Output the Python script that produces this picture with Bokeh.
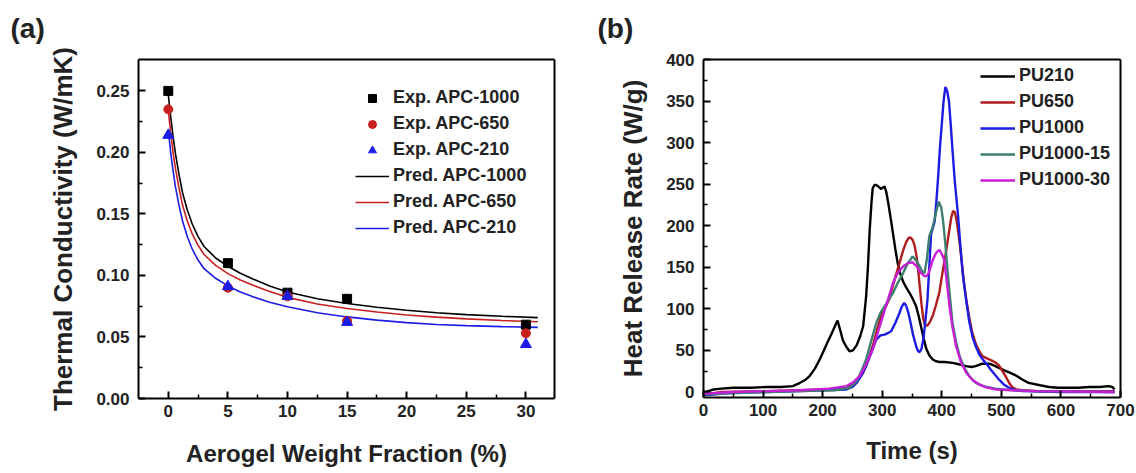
from bokeh.plotting import figure
from bokeh.layouts import row
from bokeh.models import Legend, LegendItem, FixedTicker, PrintfTickFormatter, Range1d, LinearAxis
from bokeh.embed import file_html
from bokeh.resources import INLINE

FONT = "Liberation Sans"

# ---------------- Panel (a) data ----------------
frac_exp = [0, 5, 10, 15, 30]
exp_apc1000 = [0.250, 0.110, 0.086, 0.081, 0.060]
exp_apc650 = [0.235, 0.090, 0.083, 0.063, 0.053]
exp_apc210 = [0.214, 0.091, 0.083, 0.062, 0.044]

frac_pred = [0, 0.2, 0.4, 0.6, 0.9, 1.2, 1.6, 2.0, 2.5, 3.0, 4.0, 5.0, 6.0, 7.0,
             8.5, 10, 12.5, 15, 17.5, 20, 22.5, 25, 28, 31]
pred_apc1000 = [0.247, 0.229, 0.213, 0.199, 0.182, 0.167, 0.153, 0.142, 0.1315, 0.1235,
                0.1140, 0.1075, 0.1020, 0.0975, 0.0915, 0.0865, 0.0810, 0.0772, 0.0742,
                0.0717, 0.0697, 0.0682, 0.0668, 0.0657]
pred_apc650 = [0.234, 0.216, 0.200, 0.187, 0.171, 0.157, 0.144, 0.134, 0.1245, 0.1170,
               0.1080, 0.1015, 0.0965, 0.0925, 0.0870, 0.0822, 0.0768, 0.0732, 0.0703,
               0.0679, 0.0661, 0.0647, 0.0634, 0.0624]
pred_apc210 = [0.218, 0.200, 0.185, 0.172, 0.157, 0.144, 0.1315, 0.1215, 0.1125, 0.1055,
               0.0975, 0.0915, 0.0868, 0.0830, 0.0782, 0.0745, 0.0697, 0.0663, 0.0637,
               0.0617, 0.0602, 0.0592, 0.0584, 0.0578]

xticks_a = [0, 5, 10, 15, 20, 25, 30]
yticks_a = [0.0, 0.05, 0.10, 0.15, 0.20, 0.25]

# ---------------- Panel (b) data ----------------
t_pu210 = [0, 8, 17, 30, 50, 80, 106, 130, 150, 162, 170, 178, 187, 195, 202, 209, 215, 220,
           225, 230, 234, 240, 245, 251, 257, 263, 268, 273, 276, 279, 282, 284, 287, 290,
           294, 298, 301, 304, 307, 310, 314, 318, 322, 326, 330, 335, 340, 346, 352, 357,
           361, 365, 369, 374, 379, 385, 390, 396, 405, 418, 430, 441, 450, 457, 468, 480,
           490, 496, 505, 515, 524, 535, 545, 552, 565, 580, 595, 611, 630, 647, 665, 680,
           686, 690]
hrr_pu210 = [-2, 1, 3, 4, 5, 5, 6, 6, 7, 11, 14, 19, 28, 39, 50, 61, 70, 78,
             86, 73, 62, 54, 49, 50, 56, 67, 79, 115, 150, 195, 228, 245, 249, 249,
             247, 244, 246, 247, 240, 228, 210, 191, 172, 155, 143, 133, 126, 119, 111, 103,
             92, 79, 66, 52, 44, 39, 37, 36, 36, 35, 33, 31, 30, 31, 34, 34,
             31, 29, 26, 23, 20, 15, 11, 10, 8, 6, 5, 5, 5, 6, 6, 7,
             6, 3]

t_pu650 = [0, 30, 106, 160, 218, 240, 251, 260, 268, 276, 284, 291, 298, 303, 307, 312, 318,
           324, 329, 335, 340, 344, 347, 351, 354, 357, 360, 363, 366, 369, 372, 376, 380,
           385, 390, 396, 401, 407, 412, 416, 419, 422, 425, 429, 433, 437, 441, 446, 451,
           457, 463, 468, 474, 480, 486, 491, 496, 501, 507, 513, 518, 525, 535, 560, 600,
           650, 690]
hrr_pu650 = [-4, 0, 1, 2, 3, 5, 9, 15, 23, 38, 55, 74, 91, 100, 104, 112, 128,
             143, 155, 170, 180, 185, 186, 183, 177, 166, 150, 127, 105, 88, 80, 80, 84,
             92, 104, 120, 143, 168, 192, 210, 218, 216, 206, 185, 160, 133, 112, 90, 72,
             58, 49, 43, 41, 39, 37, 35, 32, 26, 19, 11, 6, 3, 2, 1, 1,
             1, 1]

t_pu1000 = [0, 50, 106, 162, 200, 240, 250, 257, 265, 273, 281, 290, 297, 304, 310, 315, 322,
            329, 333, 337, 340, 344, 348, 352, 357, 360, 363, 366, 369, 372, 376, 379, 382,
            385, 388, 391, 394, 397, 400, 403, 406, 409, 412, 415, 418, 422, 427, 431, 435,
            440, 446, 452, 457, 463, 470, 476, 482, 490, 496, 504, 513, 525, 535, 600, 690]
hrr_pu1000 = [-4, -1, 0, 1, 2, 3, 6, 11, 20, 31, 46, 63, 68, 69, 71, 73, 83,
              95, 103, 107, 104, 95, 82, 68, 55, 49, 48, 52, 63, 82, 111, 150, 190,
              197, 205, 230, 260, 295, 322, 350, 367, 362, 350, 322, 291, 252, 215, 178, 143,
              115, 85, 65, 55, 45, 38, 33, 27, 20, 15, 9, 5, 2, 1, 0, 0]

t_pu1000_15 = [0, 106, 162, 220, 245, 257, 265, 273, 281, 290, 297, 304, 311, 318, 326, 335,
               343, 351, 357, 363, 368, 371, 375, 379, 385, 390, 395, 399, 402, 406, 410, 414,
               418, 424, 430, 438, 446, 457, 469, 490, 520, 560, 690]
hrr_pu1000_15 = [-3, 0, 1, 2, 5, 13, 25, 39, 60, 83, 95, 103, 111, 119, 131, 143,
                 155, 163, 158, 151, 144, 143, 160, 187, 199, 215, 229, 222, 207, 178, 143, 112,
                 83, 60, 43, 29, 19, 11, 7, 4, 2, 1, 0]

t_pu1000_30 = [0, 50, 106, 162, 210, 240, 252, 262, 273, 284, 292, 301, 310, 318, 326, 335,
               343, 351, 358, 365, 370, 374, 378, 385, 391, 396, 400, 404, 408, 413, 418, 424,
               432, 441, 452, 463, 477, 491, 520, 560, 690]
hrr_pu1000_30 = [-2, 0, 1, 2, 4, 7, 12, 19, 33, 51, 70, 91, 112, 131, 143, 151,
                 155, 156, 151, 143, 140, 139, 143, 159, 168, 171, 166, 159, 135, 103, 78, 55,
                 36, 23, 14, 9, 5, 3, 2, 1, 0]

xticks_b = [0, 100, 200, 300, 400, 500, 600, 700]
yticks_b = [0, 50, 100, 150, 200, 250, 300, 350, 400]


def frame_axis(p, side, spacer=False):
    ax = LinearAxis(ticker=FixedTicker(ticks=[]), axis_line_width=2, axis_line_color="black",
                    major_tick_in=0, major_tick_out=0, minor_tick_in=0, minor_tick_out=0,
                    major_label_text_font_size="0px", major_label_standoff=0)
    if spacer:
        ax.axis_label = " "
        ax.axis_label_text_font_size = "8px"
        ax.axis_label_standoff = 0
    p.add_layout(ax, side)


def style(p, xticks, xminor, yticks, yminor, xlabel, ylabel, yfmt,
          ylabel_standoff, xlabel_standoff, title, title_offset):
    p.xgrid.visible = False
    p.ygrid.visible = False
    p.outline_line_color = None
    p.background_fill_color = "white"
    p.border_fill_color = "white"
    p.xaxis.ticker = FixedTicker(ticks=xticks, minor_ticks=xminor)
    p.yaxis.ticker = FixedTicker(ticks=yticks, minor_ticks=yminor)
    if yfmt:
        p.yaxis.formatter = PrintfTickFormatter(format=yfmt)
    p.xaxis.axis_label = xlabel
    p.yaxis.axis_label = ylabel
    for ax in (p.xaxis[0], p.yaxis[0]):
        ax.axis_line_width = 2
        ax.axis_line_color = "black"
        ax.major_tick_in = 7
        ax.major_tick_out = 0
        ax.major_tick_line_width = 2
        ax.minor_tick_in = 4
        ax.minor_tick_out = 0
        ax.minor_tick_line_width = 1.5
        ax.major_label_text_font = FONT
        ax.major_label_text_font_style = "bold"
        ax.major_label_text_font_size = "17px"
        ax.major_label_text_color = "#222222"
        ax.axis_label_text_font = FONT
        ax.axis_label_text_font_style = "bold"
        ax.axis_label_text_color = "#222222"
    p.xaxis.major_label_standoff = 6
    p.yaxis.major_label_standoff = 9
    p.xaxis.axis_label_text_font_size = "24px"
    p.yaxis.axis_label_text_font_size = "26px"
    p.yaxis.axis_label_standoff = ylabel_standoff
    p.xaxis.axis_label_standoff = xlabel_standoff
    frame_axis(p, "above", spacer=True)
    frame_axis(p, "right")
    p.title.text = title
    p.title.align = "left"
    p.title.offset = title_offset
    p.title.text_font = FONT
    p.title.text_font_style = "bold"
    p.title.text_font_size = "28px"
    p.title.text_color = "#222222"
    p.title.standoff = 8


# ---------------- Figure (a) ----------------
pa = figure(frame_width=416, frame_height=339, min_border_left=138, min_border_right=14,
            min_border_top=59, min_border_bottom=75,
            x_range=Range1d(-2.5, 32.4), y_range=Range1d(0, 0.2755),
            output_backend="svg", toolbar_location=None, title_location="above")
style(pa, xticks_a, [2.5, 7.5, 12.5, 17.5, 22.5, 27.5], yticks_a,
      [0.025, 0.075, 0.125, 0.175, 0.225], "Aerogel Weight Fraction (%)",
      "Thermal Conductivity (W/mK)", "%.2f", 15, 20, "(a)", -128)

RED_A = "#c8201e"
BLUE_A = "#1c1ce6"
l1 = pa.line(frac_pred, pred_apc1000, line_color="black", line_width=1.6)
l2 = pa.line(frac_pred, pred_apc650, line_color=RED_A, line_width=1.6)
l3 = pa.line(frac_pred, pred_apc210, line_color=BLUE_A, line_width=1.6)
s1 = pa.scatter(frac_exp, exp_apc1000, marker="square", size=9, color="black")
s2 = pa.scatter(frac_exp, exp_apc650, marker="circle", size=9, color=RED_A)
s3 = pa.scatter(frac_exp, exp_apc210, marker="triangle", size=11, color=BLUE_A)

leg_a = Legend(items=[
    LegendItem(label="Exp. APC-1000", renderers=[s1]),
    LegendItem(label="Exp. APC-650", renderers=[s2]),
    LegendItem(label="Exp. APC-210", renderers=[s3]),
    LegendItem(label="Pred. APC-1000", renderers=[l1]),
    LegendItem(label="Pred. APC-650", renderers=[l2]),
    LegendItem(label="Pred. APC-210", renderers=[l3]),
], location=(217, 160), padding=0, margin=0, spacing=5, border_line_color=None,
   background_fill_alpha=0, glyph_width=34, glyph_height=20, label_height=20,
   label_standoff=4, label_text_font=FONT, label_text_font_style="bold",
   label_text_font_size="18px", label_text_color="#222222")
pa.add_layout(leg_a)

# ---------------- Figure (b) ----------------
pb = figure(frame_width=417, frame_height=338, min_border_left=135, min_border_right=16,
            min_border_top=59, min_border_bottom=76,
            x_range=Range1d(0, 700), y_range=Range1d(-6.7, 400),
            output_backend="svg", toolbar_location=None, title_location="above")
style(pb, xticks_b, [50, 150, 250, 350, 450, 550, 650], yticks_b,
      [25, 75, 125, 175, 225, 275, 325, 375], "Time (s)",
      "Heat Release Rate (W/g)", None, 15, 18, "(b)", -106)

LW = 2.4
r1 = pb.line(t_pu210, hrr_pu210, line_color="black", line_width=LW)
r2 = pb.line(t_pu650, hrr_pu650, line_color="#b01c1c", line_width=LW)
r3 = pb.line(t_pu1000, hrr_pu1000, line_color="#1c1ce0", line_width=LW)
r4 = pb.line(t_pu1000_15, hrr_pu1000_15, line_color="#3c7f70", line_width=LW)
r5 = pb.line(t_pu1000_30, hrr_pu1000_30, line_color="#c81ed8", line_width=LW)

leg_b = Legend(items=[
    LegendItem(label="PU210", renderers=[r1]),
    LegendItem(label="PU650", renderers=[r2]),
    LegendItem(label="PU1000", renderers=[r3]),
    LegendItem(label="PU1000-15", renderers=[r4]),
    LegendItem(label="PU1000-30", renderers=[r5]),
], location=(277, 207), padding=0, margin=0, spacing=5, border_line_color=None,
   background_fill_alpha=0, glyph_width=35, glyph_height=20, label_height=20,
   label_standoff=4, label_text_font=FONT, label_text_font_style="bold",
   label_text_font_size="18px", label_text_color="#222222")
pb.add_layout(leg_b)

layout = row(pa, pb)
open("out.html", "w").write(file_html(layout, INLINE))
